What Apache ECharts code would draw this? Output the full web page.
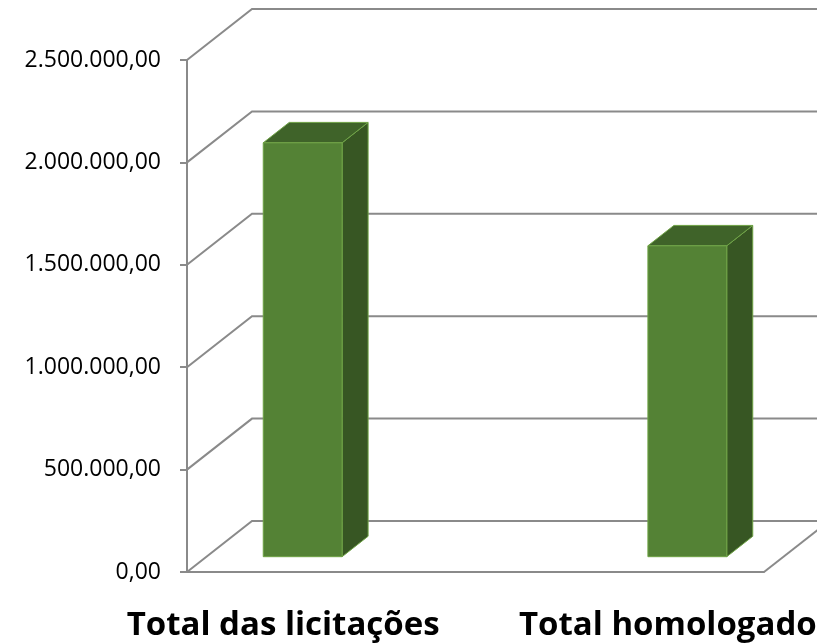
<!DOCTYPE html>
<html>
<head>
<meta charset="utf-8">
<script src="https://cdn.jsdelivr.net/npm/echarts@6/dist/echarts.min.js"></script>
<style>
  html, body { margin: 0; padding: 0; background: #fff; }
</style>
</head>
<body>
<div id="chart" style="width:817px;height:643px;"></div>
<script>
// dados
const categories = ['Total das licitações', '', 'Total homologado'];
const values = [2021000, null, 1518000];
const yTicks = [0, 500000, 1000000, 1500000, 2000000, 2500000];

// profundidade da perspectiva (px)
const DX = 65, DY = -51;
const GRID_COLOR = '#8a8a8a';

function fmt(v) {
  let s = Math.round(v).toString().replace(/\B(?=(\d{3})+(?!\d))/g, '.');
  return s + ',00';
}

let myChart = echarts.init(document.getElementById('chart'));

let option = {
  animation: false,
  grid: { left: 187, right: 53, top: 60, bottom: 71, containLabel: false, outerBoundsMode: 'none' },
  xAxis: {
    type: 'category',
    data: categories,
    axisLine: { lineStyle: { color: GRID_COLOR, width: 2 } },
    axisTick: { length: 12, lineStyle: { color: GRID_COLOR, width: 2 } },
    axisLabel: {
      interval: 0,
      margin: 37,
      color: '#000',
      fontFamily: 'Open Sans',
      fontWeight: 'bold',
      fontSize: 33
    }
  },
  yAxis: {
    type: 'value',
    min: 0,
    max: 2500000,
    interval: 500000,
    splitLine: { show: false },
    axisLine: { show: true, lineStyle: { color: GRID_COLOR, width: 2 } },
    axisTick: { show: true, length: 7, lineStyle: { color: GRID_COLOR, width: 2 } },
    axisLabel: {
      margin: 26,
      color: '#000',
      fontFamily: 'Open Sans',
      fontSize: 23,
      formatter: fmt
    }
  },
  series: [
    {
      // paredes: linhas de grade do fundo e diagonais
      type: 'custom',
      clip: false,
      z: 1,
      silent: true,
      data: yTicks.map(v => [0, v]),
      renderItem: function (params, api) {
        const cs = params.coordSys;
        const y = api.coord([0, api.value(1)])[1];
        const left = cs.x, right = cs.x + cs.width;
        const style = { stroke: GRID_COLOR, lineWidth: 2, fill: null };
        const children = [
          { type: 'polyline', shape: { points: [[left, y], [left + DX, y + DY], [right + DX, y + DY]] }, style: style }
        ];
        if (api.value(1) === 0) {
          children.push({ type: 'line', shape: { x1: right, y1: y, x2: right + DX, y2: y + DY }, style: style });
        }
        return { type: 'group', children: children };
      }
    },
    {
      // colunas 3D
      type: 'custom',
      clip: false,
      z: 3,
      data: values.map((v, i) => [i, v]).filter(d => d[1] != null),
      renderItem: function (params, api) {
        const i = api.value(0), v = api.value(1);
        const base = api.coord([i, 0]);
        const top = api.coord([i, v]);
        const w = api.size([1, 0])[0] * 0.41;
        const x0 = base[0] - w / 2 + 0.3 * DX, x1 = x0 + w;
        const yb = base[1] + 0.3 * DY, yt = top[1] + 0.3 * DY;
        const ddx = 0.4 * DX, ddy = 0.4 * DY;
        const edge = '#6fa346';
        return {
          type: 'group',
          children: [
            { type: 'polygon', shape: { points: [[x1, yt], [x1 + ddx, yt + ddy], [x1 + ddx, yb + ddy], [x1, yb]] },
              style: { fill: '#375623', stroke: edge, lineWidth: 1 } },
            { type: 'polygon', shape: { points: [[x0, yt], [x1, yt], [x1 + ddx, yt + ddy], [x0 + ddx, yt + ddy]] },
              style: { fill: '#3f6329', stroke: edge, lineWidth: 1 } },
            { type: 'rect', shape: { x: x0, y: yt, width: w, height: yb - yt },
              style: { fill: '#548235', stroke: edge, lineWidth: 1 } }
          ]
        };
      }
    }
  ]
};

window.onresize = myChart.resize;
myChart.setOption(option);
</script>
</body>
</html>
